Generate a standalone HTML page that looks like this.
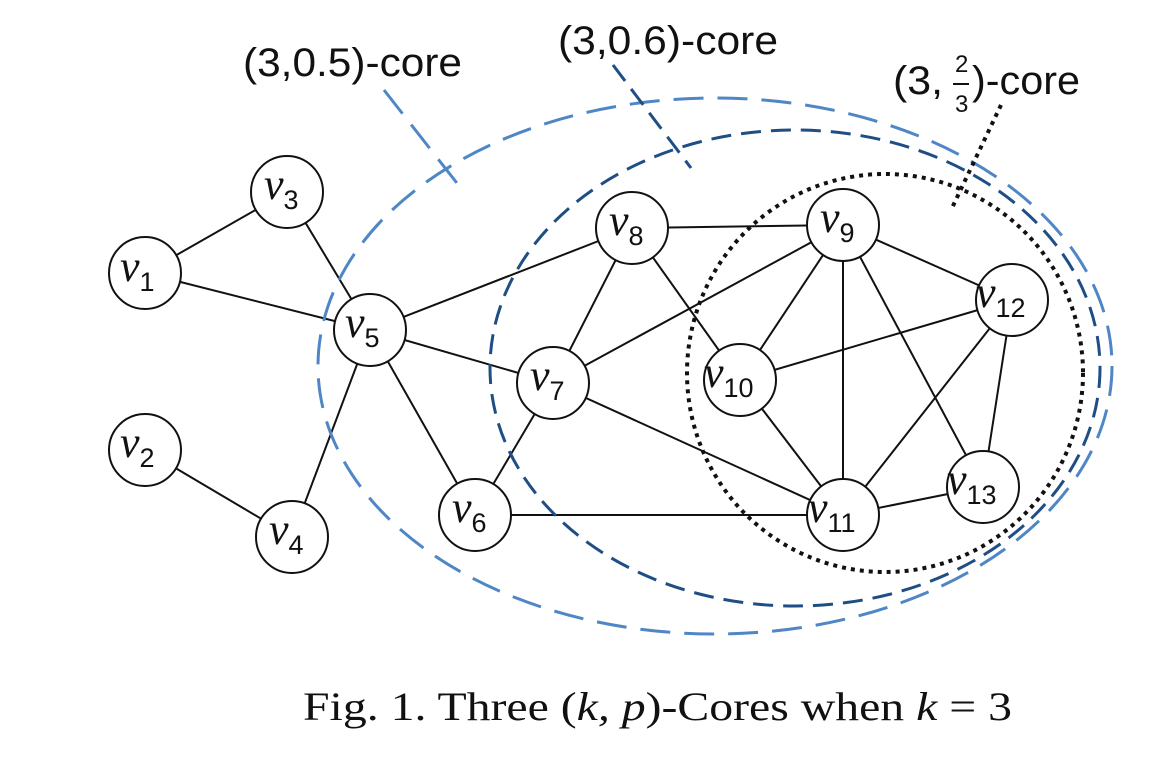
<!DOCTYPE html>
<html><head><meta charset="utf-8"><style>
html,body{margin:0;padding:0;background:#fff;}
svg{display:block}
.lab{font-family:"Liberation Sans Narrow","Liberation Sans",sans-serif;font-size:40px;fill:#111}
.nd{font-family:"Liberation Serif",serif;font-style:italic;font-size:44px;fill:#111}
.sb{font-family:"Liberation Sans",sans-serif;font-style:normal;font-size:27px}
</style></head><body>
<svg width="1158" height="760" viewBox="0 0 1158 760" xmlns="http://www.w3.org/2000/svg">
<g stroke="#111" stroke-width="2" fill="none">
<line x1="287" y1="192" x2="145" y2="273"/>
<line x1="287" y1="192" x2="370" y2="330"/>
<line x1="145" y1="273" x2="370" y2="330"/>
<line x1="145" y1="450" x2="292" y2="537"/>
<line x1="370" y1="330" x2="292" y2="537"/>
<line x1="370" y1="330" x2="475" y2="515"/>
<line x1="370" y1="330" x2="553" y2="383"/>
<line x1="370" y1="330" x2="632" y2="228"/>
<line x1="475" y1="515" x2="553" y2="383"/>
<line x1="475" y1="515" x2="843" y2="515"/>
<line x1="553" y1="383" x2="632" y2="228"/>
<line x1="553" y1="383" x2="843" y2="225"/>
<line x1="553" y1="383" x2="843" y2="515"/>
<line x1="632" y1="228" x2="843" y2="225"/>
<line x1="632" y1="228" x2="740" y2="380"/>
<line x1="843" y1="225" x2="740" y2="380"/>
<line x1="843" y1="225" x2="843" y2="515"/>
<line x1="843" y1="225" x2="1012" y2="300"/>
<line x1="843" y1="225" x2="983" y2="487"/>
<line x1="740" y1="380" x2="1012" y2="300"/>
<line x1="740" y1="380" x2="843" y2="515"/>
<line x1="1012" y1="300" x2="843" y2="515"/>
<line x1="1012" y1="300" x2="983" y2="487"/>
<line x1="843" y1="515" x2="983" y2="487"/>
</g>
<ellipse cx="715" cy="366" rx="397" ry="268" fill="none" stroke="#4f86c6" stroke-width="3" stroke-dasharray="30,14"/>
<ellipse cx="795" cy="368" rx="305" ry="238" fill="none" stroke="#1f4e85" stroke-width="3" stroke-dasharray="20,10"/>
<ellipse cx="885" cy="373" rx="198" ry="199" fill="none" stroke="#111" stroke-width="4" stroke-dasharray="4,5"/>
<line x1="384" y1="90" x2="460" y2="187" stroke="#4f86c6" stroke-width="3" stroke-dasharray="30,14"/>
<line x1="613" y1="65" x2="691" y2="168" stroke="#1f4e85" stroke-width="3" stroke-dasharray="20,10"/>
<line x1="1001" y1="105" x2="952" y2="208" stroke="#111" stroke-width="4" stroke-dasharray="4,5"/>
<g fill="#fff" stroke="#111" stroke-width="2">
<circle cx="287" cy="192" r="36"/><circle cx="145" cy="273" r="36"/><circle cx="370" cy="330" r="36"/>
<circle cx="145" cy="450" r="36"/><circle cx="292" cy="537" r="36"/><circle cx="475" cy="515" r="36"/>
<circle cx="553" cy="383" r="36"/><circle cx="632" cy="228" r="36"/><circle cx="843" cy="225" r="36"/>
<circle cx="740" cy="380" r="36"/><circle cx="1012" cy="300" r="36"/><circle cx="983" cy="487" r="36"/>
<circle cx="843" cy="515" r="36"/>
</g>
<g class="nd">
<text x="264" y="199">v<tspan class="sb" dy="10">3</tspan></text>
<text x="120" y="281">v<tspan class="sb" dy="10">1</tspan></text>
<text x="345" y="337">v<tspan class="sb" dy="10">5</tspan></text>
<text x="120" y="457">v<tspan class="sb" dy="10">2</tspan></text>
<text x="269" y="544">v<tspan class="sb" dy="10">4</tspan></text>
<text x="452" y="522">v<tspan class="sb" dy="10">6</tspan></text>
<text x="530" y="390">v<tspan class="sb" dy="10">7</tspan></text>
<text x="609" y="235">v<tspan class="sb" dy="10">8</tspan></text>
<text x="820" y="232">v<tspan class="sb" dy="10">9</tspan></text>
<text x="704" y="387">v<tspan class="sb" dy="10">10</tspan></text>
<text x="976" y="307">v<tspan class="sb" dy="10">12</tspan></text>
<text x="947" y="494">v<tspan class="sb" dy="10">13</tspan></text>
<text x="808" y="522">v<tspan class="sb" dy="10">11</tspan></text>
</g>
<text class="lab" x="243" y="76" textLength="219" lengthAdjust="spacingAndGlyphs">(3,0.5)-core</text>
<text class="lab" x="558" y="54" textLength="220" lengthAdjust="spacingAndGlyphs">(3,0.6)-core</text>
<text class="lab" x="893" y="94" textLength="50" lengthAdjust="spacingAndGlyphs">(3,</text>
<text class="lab" x="955" y="72" style="font-size:24px">2</text>
<line x1="953" y1="84" x2="969" y2="84" stroke="#111" stroke-width="2"/>
<text class="lab" x="955" y="112" style="font-size:24px">3</text>
<text class="lab" x="972" y="94" textLength="108" lengthAdjust="spacingAndGlyphs">)-core</text>
<text x="303" y="720" textLength="709" lengthAdjust="spacingAndGlyphs" style="font-family:'Liberation Serif',serif;font-size:40px;fill:#111">Fig. 1.  Three (<tspan font-style="italic">k, p</tspan>)-Cores when <tspan font-style="italic">k</tspan> = 3</text>
</svg>
</body></html>
